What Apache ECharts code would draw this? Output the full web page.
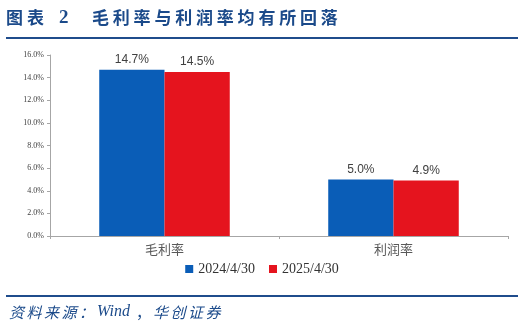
<!DOCTYPE html>
<html><head><meta charset="utf-8">
<script src="https://cdn.jsdelivr.net/npm/echarts@6/dist/echarts.min.js"></script>
<style>html,body{margin:0;padding:0;background:#fff}#c{width:524px;height:327px}</style>
</head><body><div id="c"></div>
<script>
const categories = ['毛利率', '利润率'];
const seriesNames = ['2024/4/30', '2025/4/30'];
const values2024 = [14.7, 5.0];
const values2025 = [14.5, 4.9];
const yTicks = [0, 2, 4, 6, 8, 10, 12, 14, 16];
const titleLabel = '图表';
const titleNum = '2';
const titleText = '毛利率与利润率均有所回落';
const sourceParts = ['资料来源：', 'Wind', '，', '华创证券'];

function spacedChars(str, x0, pitch, y, style) {
  return str.split('').map((ch, i) => ({
    type: 'text', x: x0 + i * pitch, y: y,
    style: Object.assign({text: ch}, style)
  }));
}
const titleStyle = {fontFamily: 'Noto Sans CJK SC', fontWeight: 'bold', fontSize: 17, fill: '#1B4A8A', textVerticalAlign: 'middle'};
const srcStyle = {fontFamily: 'Noto Sans CJK SC', fontSize: 15, fill: '#1B4A8A', textVerticalAlign: 'middle'};

const graphics = [].concat(
  spacedChars(titleLabel, 6, 21, 18, titleStyle),
  [{type: 'text', x: 59, y: 18, style: Object.assign({text: titleNum}, titleStyle, {fontFamily: 'Liberation Serif, serif', fontSize: 19})}],
  spacedChars(titleText, 92, 20.8, 18, titleStyle),
  [{type: 'rect', shape: {x: 6, y: 37, width: 512, height: 2}, style: {fill: '#1F4C8C'}},
   {type: 'rect', shape: {x: 6, y: 295, width: 512, height: 2}, style: {fill: '#1F4C8C'}}],
  spacedChars(sourceParts[0], 9, 17.5, 312, Object.assign({}, srcStyle, {fontStyle: 'italic'})),
  [{type: 'text', x: 97, y: 312, style: Object.assign({text: sourceParts[1]}, srcStyle, {fontFamily: 'Liberation Serif, serif', fontStyle: 'italic', fontSize: 16})}],
  [{type: 'text', x: 136, y: 312, style: Object.assign({text: sourceParts[2]}, srcStyle)}],
  spacedChars(sourceParts[3], 153, 17.5, 312, Object.assign({}, srcStyle, {fontStyle: 'italic'}))
);

const chart = echarts.init(document.getElementById('c'), null, {renderer: 'canvas'});
const labelStyle = {
  show: true, position: 'top', distance: 4,
  fontFamily: 'Liberation Sans, Arial, sans-serif', fontSize: 12, color: '#404040',
  formatter: p => p.value.toFixed(1) + '%'
};
chart.setOption({
  animation: false,
  color: ['#0A5DB7', '#E5141E'],
  graphic: graphics,
  grid: {left: 50, right: 16, top: 55, bottom: 91},
  legend: {
    data: seriesNames, bottom: 46, left: 'center', itemWidth: 8, itemHeight: 8, itemGap: 14,
    icon: 'rect',
    textStyle: {fontFamily: 'Liberation Serif, serif', fontSize: 14, color: '#333'}
  },
  xAxis: {
    type: 'category', data: categories,
    axisLine: {lineStyle: {color: '#A6A6A6'}},
    axisTick: {show: true, length: 3, lineStyle: {color: '#A6A6A6'}},
    axisLabel: {fontFamily: 'Noto Sans CJK SC', fontSize: 13, color: '#595959', margin: 7}
  },
  yAxis: {
    type: 'value', min: 0, max: 16, interval: 2,
    axisLine: {show: true, lineStyle: {color: '#A6A6A6'}},
    axisTick: {show: true, length: 3, lineStyle: {color: '#A6A6A6'}},
    splitLine: {show: false},
    axisLabel: {fontFamily: 'Liberation Serif, serif', fontSize: 8, color: '#404040', margin: 6,
      formatter: v => yTicks.includes(v) ? v.toFixed(1) + '%' : ''}
  },
  series: [
    {name: seriesNames[0], type: 'bar', data: values2024, barGap: '0%', barCategoryGap: '43%', label: labelStyle},
    {name: seriesNames[1], type: 'bar', data: values2025, barGap: '0%', barCategoryGap: '43%', label: labelStyle}
  ]
});
</script></body></html>
